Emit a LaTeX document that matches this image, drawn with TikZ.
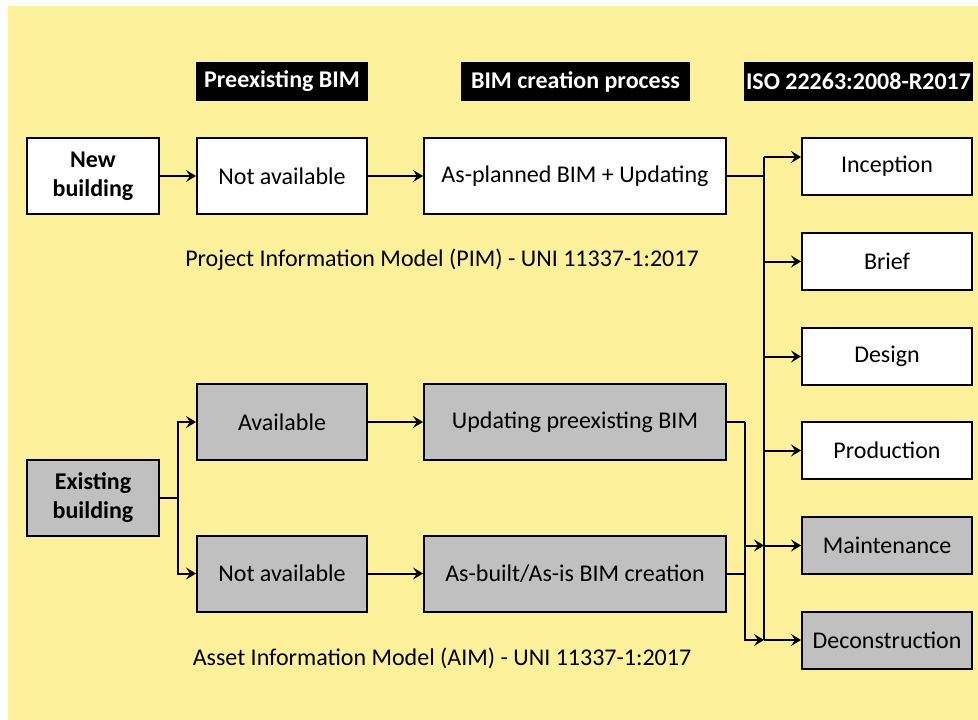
\documentclass[tikz,border=0pt]{standalone}
\usepackage{fontspec}
\setmainfont{Carlito}
\usetikzlibrary{arrows.meta}
\definecolor{paper}{HTML}{FCF09A}
\definecolor{boxgray}{HTML}{C0C0C0}
\tikzset{
  txt/.style={font=\fontsize{24}{29}\selectfont},
  box/.style={txt, draw=black, line width=2pt, fill=white, align=center,
              inner sep=0pt},
  wide/.style={box, minimum width=302pt, minimum height=76pt},
  mid/.style={box, minimum width=170pt, minimum height=76pt},
  start/.style={box, minimum width=132pt, minimum height=76pt,
                font=\fontsize{24}{29}\selectfont\bfseries},
  phase/.style={box, minimum width=170pt, minimum height=57pt},
  grey/.style={fill=boxgray},
  head/.style={txt, fill=black, text=white, font=\fontsize{24}{29}\selectfont\bfseries,
               minimum height=39pt, inner sep=0pt},
  link/.style={line width=2pt, black},
  arr/.style={link, -{Stealth[length=10pt,width=12pt,inset=4pt]}},
}
\begin{document}
\begin{tikzpicture}[x=1pt,y=-1pt]
\useasboundingbox (0,0) rectangle (978,720);
\fill[paper] (8,6) rectangle (978,720);

% column headings
\node[head, minimum width=172pt] (h1) at (282,81.5) {Preexisting BIM};
\node[head, minimum width=229pt] (h2) at (575.5,81.5) {BIM creation process};
\node[head, minimum width=229pt] (h3) at (858.5,81.5) {ISO 22263:2008-R2017};

% new building branch
\node[start] (new) at (93,176) {New\\building};
\node[mid] (nat) at (282,176) {Not available};
\node[wide] (plan) at (575,176) {As-planned BIM + Updating};
\node[txt] (pim) at (442,260) {Project Information Model (PIM) - UNI 11337-1:2017};

% existing building branch
\node[start, grey] (exist) at (93,498) {Existing\\building};
\node[mid, grey] (avail) at (282,422) {Available};
\node[mid, grey] (nab) at (282,573.5) {Not available};
\node[wide, grey] (upd) at (575,422) {Updating preexisting BIM};
\node[wide, grey] (built) at (575,573.5) {As-built/As-is BIM creation};
\node[txt] (aim) at (442,658) {Asset Information Model (AIM) - UNI 11337-1:2017};

% life-cycle phases
\node[phase] (incep) at (887,166.5) {Inception};
\node[phase] (brief) at (887,261.5) {Brief};
\node[phase] (design) at (887,356.5) {Design};
\node[phase] (prod) at (887,450.5) {Production};
\node[phase, grey] (maint) at (887,545.5) {Maintenance};
\node[phase, grey] (decon) at (887,640.5) {Deconstruction};

% connectors, new building
\draw[arr] (new) -- (nat);
\draw[arr] (nat) -- (plan);
\coordinate (busT) at (764,157);
\coordinate (busB) at (764,640);
\draw[link] (plan.east) -- (plan.east -| busT);
\draw[link] (busT) -- (busB);
\draw[arr] (busT) -- (busT -| incep.west);
\draw[arr] (busT |- brief.west) -- (brief.west);
\draw[arr] (busT |- design.west) -- (design.west);
\draw[arr] (busT |- prod.west) -- (prod.west);
\draw[arr] (busT |- maint.west) -- (maint.west);
\draw[arr] (busB) -- (busB -| decon.west);

% connectors, existing building
\coordinate (fork) at (178,498);
\draw[link] (exist.east) -- (fork);
\draw[arr] (fork) |- (avail.west);
\draw[arr] (fork) |- (nab.west);
\draw[arr] (avail) -- (upd);
\draw[arr] (nab) -- (built);
\coordinate (merge) at (745,422);
\draw[link] (upd.east) -- (merge);
\draw[link] (built.east) -- (built.east -| merge);
\draw[arr] (merge) |- (busB);
\draw[arr] (merge |- maint.west) -- (busT |- maint.west);
\end{tikzpicture}
\end{document}
